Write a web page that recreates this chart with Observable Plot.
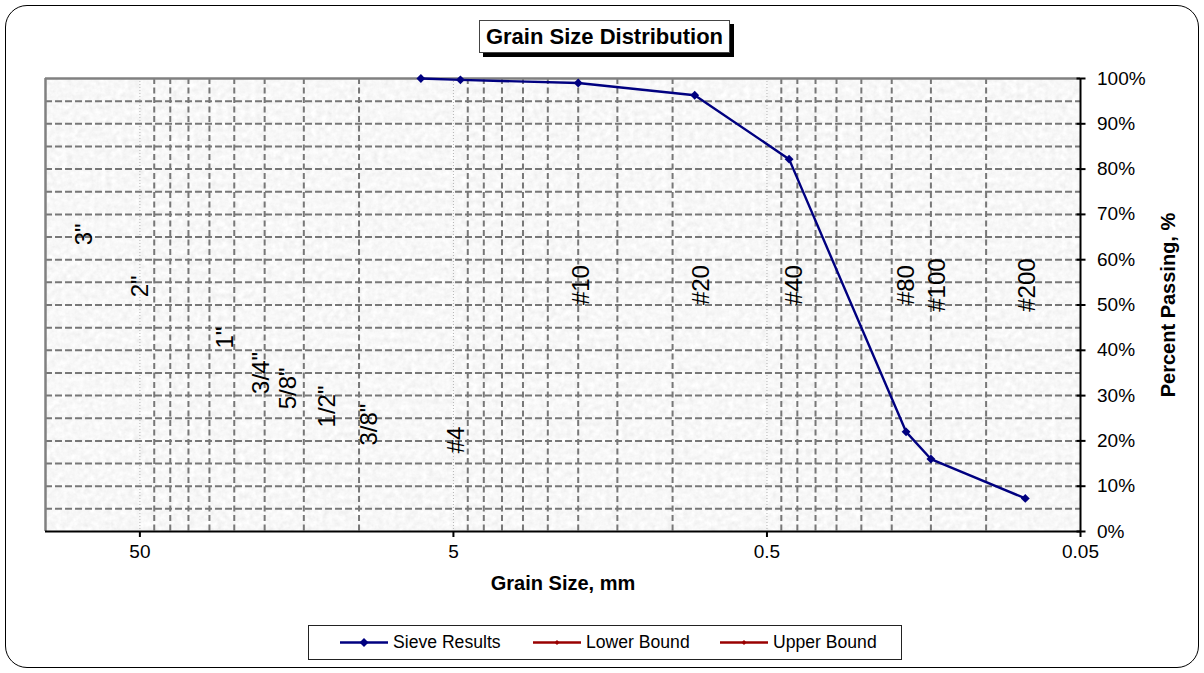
<!DOCTYPE html>
<html><head><meta charset="utf-8">
<script src="https://cdn.jsdelivr.net/npm/d3@7"></script>
<script src="https://cdn.jsdelivr.net/npm/@observablehq/plot@0.6"></script>
<style>
body{margin:0;background:#fff;font-family:"Liberation Sans",Arial,sans-serif;color:#000;}
#wrap{position:relative;width:1204px;height:673px;overflow:hidden;}
#border{position:absolute;left:5px;top:5px;width:1192px;height:661px;border:1px solid #000;border-radius:22px;}
#title{position:absolute;left:479px;top:20px;width:249px;height:31px;border:1px solid #444;background:#fff;box-shadow:4px 4px 0 #000;font-weight:bold;font-size:22px;line-height:31px;text-align:center;}
#chart{position:absolute;left:0;top:60px;}
#legend{position:absolute;left:308px;top:625px;width:592px;height:33px;border:1px solid #222;background:#fff;}
.item{position:absolute;top:0;height:33px;display:flex;align-items:center;font-size:17.6px;white-space:nowrap;}
.item svg{margin-right:5px;}
</style></head>
<body>
<div id="wrap">
  <div id="border"></div>
  <div id="title">Grain Size Distribution</div>
  <div id="chart"></div>
  <div id="legend"></div>
</div>
<script>
// ---- data ----
const sieveSize = [6.35, 4.75, 2.0, 0.85, 0.425, 0.18, 0.15, 0.075];
const percentPassing = [100, 99.7, 99.0, 96.3, 82.2, 22.0, 16.0, 7.3];
const sieveLabels = ['3"', '2"', '1"', '3/4"', '5/8"', '1/2"', '3/8"', '#4', '#10', '#20', '#40', '#80', '#100', '#200'];
const labelSize = [75, 50, 26.7, 20.5, 16.8, 12.6, 9.3, 4.9, 1.96, 0.81, 0.41, 0.18, 0.143, 0.074];
const labelPercent = [65.6, 54.1, 42.8, 35.0, 31.6, 27.6, 23.6, 20.2, 54.4, 54.4, 54.4, 54.4, 54.4, 54.4];
const xTicks = [50, 5, 0.5, 0.05];
const xTickLabels = ["50", "5", "0.5", "0.05"];
const xMajorGrid = [50, 5, 0.5];
const xMinorGrid = [45, 40, 35, 30, 25, 20, 15, 10, 4.5, 4, 3.5, 3, 2.5, 2, 1.5, 1, 0.45, 0.4, 0.35, 0.3, 0.25, 0.2, 0.15, 0.1];
const yTicks = [0, 10, 20, 30, 40, 50, 60, 70, 80, 90, 100];
const yGrid = [5, 10, 15, 20, 25, 30, 35, 40, 45, 50, 55, 60, 65, 70, 75, 80, 85, 90, 95];
const legendNames = ["Sieve Results", "Lower Bound", "Upper Bound"];
const legendColors = ["#000080", "#990000", "#990000"];

const data = sieveSize.map((s, i) => ({size: s, pass: percentPassing[i]}));
const labels = sieveLabels.map((t, i) => ({t, size: labelSize[i], pass: labelPercent[i]}));
const xLabelData = xTicks.map((v, i) => ({v, t: xTickLabels[i]}));

const gridStyle = {stroke: "#777", strokeWidth: 2, strokeDasharray: "7,3"};

const plot = Plot.plot({
  width: 1204,
  height: 560,
  marginLeft: 45,
  marginRight: 124,
  marginTop: 18,
  marginBottom: 89,
  style: {fontFamily: "'Liberation Sans', Arial, sans-serif", fontSize: "19px", color: "#000", background: "transparent", overflow: "visible"},
  x: {type: "log", domain: [100, 0.05]},
  y: {domain: [0, 100]},
  marks: [
    Plot.frame({fill: "#ececec", stroke: "none"}),
    Plot.ruleX(xMajorGrid, {stroke: "#b5b5b5", strokeWidth: 1, strokeDasharray: "1,2"}),
    Plot.ruleX(xMinorGrid, {...gridStyle, strokeDasharray: "6,3.5"}),
    Plot.ruleY(yGrid, gridStyle),
    Plot.ruleY([100], {stroke: "#808080", strokeWidth: 2.5}),
    Plot.ruleX([100], {stroke: "#808080", strokeWidth: 2.5}),
    Plot.ruleY([0], {stroke: "#000", strokeWidth: 2}),
    Plot.ruleX([0.05], {stroke: "#000", strokeWidth: 2}),
    Plot.line(data, {x: "size", y: "pass", stroke: "#000080", strokeWidth: 2.4}),
    Plot.dot(data, {x: "size", y: "pass", symbol: "diamond2", r: 4, fill: "#000080", stroke: "none"}),
    Plot.text(labels, {x: "size", y: "pass", text: "t", rotate: -90, fontSize: 24, textAnchor: "middle", lineAnchor: "middle", fill: "#000"}),
    Plot.axisX(xTicks, {tickSize: 6, strokeWidth: 2, tickFormat: () => "", label: null}),
    Plot.text(xLabelData, {x: "v", text: "t", frameAnchor: "bottom", dy: 20, fontSize: 19, textAnchor: "middle", lineAnchor: "middle", fill: "#000"}),
    Plot.axisY(yTicks, {anchor: "right", tickSize: 9, dx: -4.5, tickPadding: 12, strokeWidth: 2, tickFormat: d => d + "%", fontSize: 19, label: null}),
    Plot.text(["Grain Size, mm"], {frameAnchor: "bottom", dy: 52, fontWeight: "bold", fontSize: 20, textAnchor: "middle", lineAnchor: "middle"}),
    Plot.text(["Percent Passing, %"], {frameAnchor: "right", dx: 88, rotate: -90, fontWeight: "bold", fontSize: 20, textAnchor: "middle", lineAnchor: "middle"})
  ]
});

// granite texture on the plot area
const ns = "http://www.w3.org/2000/svg";
const defs = document.createElementNS(ns, "defs");
defs.innerHTML = `<filter id="granite" x="0" y="0" width="1" height="1">
  <feTurbulence type="fractalNoise" baseFrequency="0.18" numOctaves="3" seed="11" result="n"/>
  <feColorMatrix in="n" type="matrix" values="0.14 0.14 0 0 0.795  0.14 0.14 0 0 0.795  0.14 0.14 0 0 0.795  0 0 0 0 1"/>
</filter>`;
plot.insertBefore(defs, plot.firstChild);
const fr = plot.querySelector('[aria-label="frame"]');
if (fr) fr.setAttribute("filter", "url(#granite)");

document.getElementById("chart").appendChild(plot);

// legend
const leg = document.getElementById("legend");
const offsets = [31, 224, 411];
legendNames.forEach((name, i) => {
  const it = document.createElement("div");
  it.className = "item";
  it.style.left = offsets[i] + "px";
  const marker = i === 0
    ? `<path d="M24,12 L28.5,16.5 L24,21 L19.5,16.5 Z" fill="${legendColors[i]}"/>`
    : `<path d="M24,14 L26.5,16.5 L24,19 L21.5,16.5 Z" fill="${legendColors[i]}"/>`;
  it.innerHTML = `<svg width="48" height="33"><line x1="0" x2="48" y1="16.5" y2="16.5" stroke="${legendColors[i]}" stroke-width="2.5"/>${marker}</svg><span>${name}</span>`;
  leg.appendChild(it);
});
</script>
</body></html>
